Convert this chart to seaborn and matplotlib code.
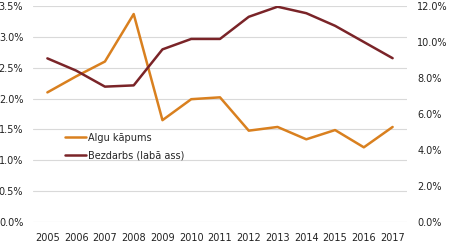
import matplotlib
matplotlib.use("Agg")
import matplotlib.pyplot as plt
import seaborn as sns
import pandas as pd
from matplotlib.ticker import FuncFormatter

years = [2005, 2006, 2007, 2008, 2009, 2010, 2011, 2012, 2013, 2014, 2015, 2016, 2017]
wage_growth = [2.10, 2.36, 2.60, 3.37, 1.65, 1.99, 2.02, 1.48, 1.54, 1.34, 1.49, 1.21, 1.54]
unemployment = [9.09, 8.41, 7.52, 7.59, 9.59, 10.17, 10.17, 11.40, 11.96, 11.60, 10.90, 10.00, 9.10]
label_wage = "Algu kāpums"
label_unemp = "Bezdarbs (labā ass)"

df = pd.DataFrame({"year": years, "wage": wage_growth, "unemp": unemployment})

sns.set_theme(style="white")
plt.rcParams['font.family'] = ['DejaVu Sans']

orange = "#D9801F"
darkred = "#7A2428"

fig = plt.figure(figsize=(4.5, 2.45), dpi=100)
ax = fig.add_axes([33/450, 1-222/245, 374/450, 216/245])
ax2 = ax.twinx()

sns.lineplot(data=df, x="year", y="wage", ax=ax, color=orange, linewidth=1.8, label=label_wage, legend=False)
sns.lineplot(data=df, x="year", y="unemp", ax=ax2, color=darkred, linewidth=1.8, label=label_unemp, legend=False)

ax.set_xlim(2004.5, 2017.5)
ax.set_ylim(0, 3.5)
ax2.set_ylim(0, 12)
ax.set_xticks(years)
ax.set_xticklabels([str(y) for y in years])
ax.set_yticks([0, 0.5, 1.0, 1.5, 2.0, 2.5, 3.0, 3.5])
ax2.set_yticks([0, 2, 4, 6, 8, 10, 12])
ax.yaxis.set_major_formatter(FuncFormatter(lambda v, p: f"{v:.1f}%"))
ax2.yaxis.set_major_formatter(FuncFormatter(lambda v, p: f"{v:.1f}%"))

ax.grid(axis="y", color="#D9D9D9", linewidth=0.8)
ax.set_axisbelow(True)
for a in (ax, ax2):
    for s in a.spines.values():
        s.set_visible(False)
    a.set_xlabel("")
    a.set_ylabel("")
ax.tick_params(axis="x", length=0, pad=8, labelsize=7, colors="#222222")
ax.tick_params(axis="y", length=0, pad=7, labelsize=7, colors="#222222")
ax2.tick_params(axis="y", length=0, pad=7.5, labelsize=7, colors="#222222")

h1, l1 = ax.get_legend_handles_labels()
h2, l2 = ax2.get_legend_handles_labels()
fig.legend(h1 + h2, l1 + l2, loc="upper left", bbox_to_anchor=(61/450, 1-129/245),
           bbox_transform=fig.transFigure, frameon=False, fontsize=7,
           handlelength=2.2, handletextpad=0.2, labelspacing=0.75, borderaxespad=0)

fig.savefig("out.png", dpi=100)
